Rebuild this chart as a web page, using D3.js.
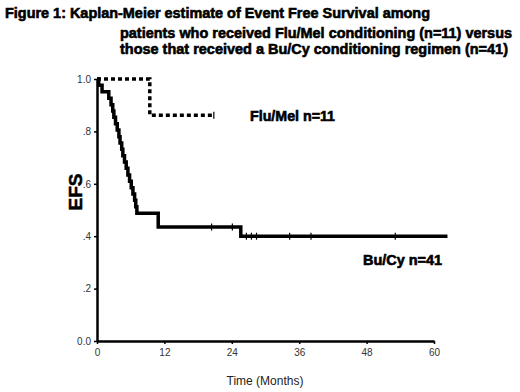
<!DOCTYPE html>
<html>
<head>
<meta charset="utf-8">
<script src="https://cdn.jsdelivr.net/npm/d3@7"></script>
<style>
body{margin:0;background:#fff}
svg{display:block}
</style>
</head>
<body>
<script>
// Bu/Cy step curve (months, EFS)
const buTimes=[0,0.3,0.9,2.1,2.5,2.8,3.0,3.3,3.6,3.9,4.1,4.4,4.6,4.9,5.2,5.5,5.8,6.1,6.4,6.7,6.9,7.1,10.9,25.6,62.4]
const buSurv=[1.0,0.976,0.951,0.927,0.902,0.878,0.854,0.829,0.805,0.780,0.756,0.732,0.707,0.683,0.659,0.634,0.610,0.585,0.561,0.537,0.512,0.488,0.435,0.400,0.400]
const buCensor=[[20.4,0.435],[24.1,0.435],[26.6,0.400],[27.5,0.400],[28.4,0.400],[34.3,0.400],[38.1,0.400],[53.1,0.400]]
// Flu/Mel step curve
const fluTimes=[0,9.4,20.8]
const fluSurv=[1.0,0.862,0.862]
const fluCensor=[[20.8,0.862]]
const xTicks=[0,12,24,36,48,60]
const yTicks=[0,0.2,0.4,0.6,0.8,1.0]
const titleLines=['Figure 1: Kaplan-Meier estimate of Event Free Survival among',
  'patients who received Flu/Mel conditioning (n=11) versus',
  'those that received a Bu/Cy conditioning regimen (n=41)']

const width=520
const height=392
const svg=d3.select('body').append('svg').attr('width',width).attr('height',height)
  .style('font-family','Liberation Sans, Arial, sans-serif')

const x=d3.scaleLinear().domain([0,60]).range([97,434])
const y=d3.scaleLinear().domain([0,1]).range([341,79])

// title, heavy and tight like the scan
const tl=[[5,18,425],[120,38,392],[120,54,388]]
svg.selectAll('text.title').data(titleLines).enter().append('text')
  .attr('class','title')
  .attr('x',(d,i)=>tl[i][0]).attr('y',(d,i)=>tl[i][1])
  .attr('textLength',(d,i)=>tl[i][2]).attr('lengthAdjust','spacingAndGlyphs')
  .attr('stroke','#000').attr('stroke-width',0.6)
  .style('font-size','14.5px').style('font-weight','bold').text(d=>d)

// axes
const xAxis=d3.axisBottom(x).tickValues(xTicks).tickSize(3).tickSizeOuter(0)
const yAxis=d3.axisLeft(y).tickValues(yTicks).tickSize(3).tickSizeOuter(0)
  .tickFormat(d=>d===0?'0.0':d===1?'1.0':d3.format('.1f')(d).replace('0.','.'))
const gx=svg.append('g').attr('transform','translate(0,341)').call(xAxis)
const gy=svg.append('g').attr('transform','translate(97,0)').call(yAxis)
;[gx,gy].forEach(g=>{
  g.select('.domain').attr('stroke','#000').attr('stroke-width',2.5)
  g.selectAll('.tick line').attr('stroke','#000').attr('stroke-width',1.5)
  g.selectAll('.tick text').attr('fill','#333').style('font-size','10px').style('font-family','Liberation Sans, Arial, sans-serif')
})
gx.selectAll('.tick text').attr('dy','0.9em')

// curves
const line=d3.line().x(d=>x(d[0])).y(d=>y(d[1])).curve(d3.curveStepAfter)
const bu=buTimes.map((t,i)=>[t,buSurv[i]])
const flu=fluTimes.map((t,i)=>[t,fluSurv[i]])
svg.append('path').datum(bu).attr('d',line).attr('fill','none')
  .attr('stroke','#000').attr('stroke-width',3.5)
svg.append('path').datum(flu).attr('d',line).attr('fill','none')
  .attr('stroke','#000').attr('stroke-width',3.5).attr('stroke-dasharray','4,3')

svg.selectAll('line.cens').data(buCensor.concat(fluCensor)).enter().append('line')
  .attr('class','cens')
  .attr('x1',d=>x(d[0])).attr('x2',d=>x(d[0]))
  .attr('y1',d=>y(d[1])-3.5).attr('y2',d=>y(d[1])+3.5)
  .attr('stroke','#000').attr('stroke-width',1.2)

// labels
svg.append('text').attr('x',250).attr('y',121).attr('textLength',85).attr('lengthAdjust','spacingAndGlyphs')
  .attr('stroke','#000').attr('stroke-width',0.6)
  .style('font-size','14px').style('font-weight','bold').text('Flu/Mel n=11')
svg.append('text').attr('x',363).attr('y',265).attr('textLength',79).attr('lengthAdjust','spacingAndGlyphs')
  .attr('stroke','#000').attr('stroke-width',0.6)
  .style('font-size','14px').style('font-weight','bold').text('Bu/Cy n=41')
svg.append('text').attr('transform','translate(82,192) rotate(-90)').attr('text-anchor','middle')
  .attr('stroke','#000').attr('stroke-width',0.5)
  .style('font-size','19px').style('font-weight','bold').text('EFS')
svg.append('text').attr('x',265).attr('y',385).attr('text-anchor','middle')
  .style('font-size','12px').attr('fill','#222').text('Time (Months)')
</script>
</body>
</html>
